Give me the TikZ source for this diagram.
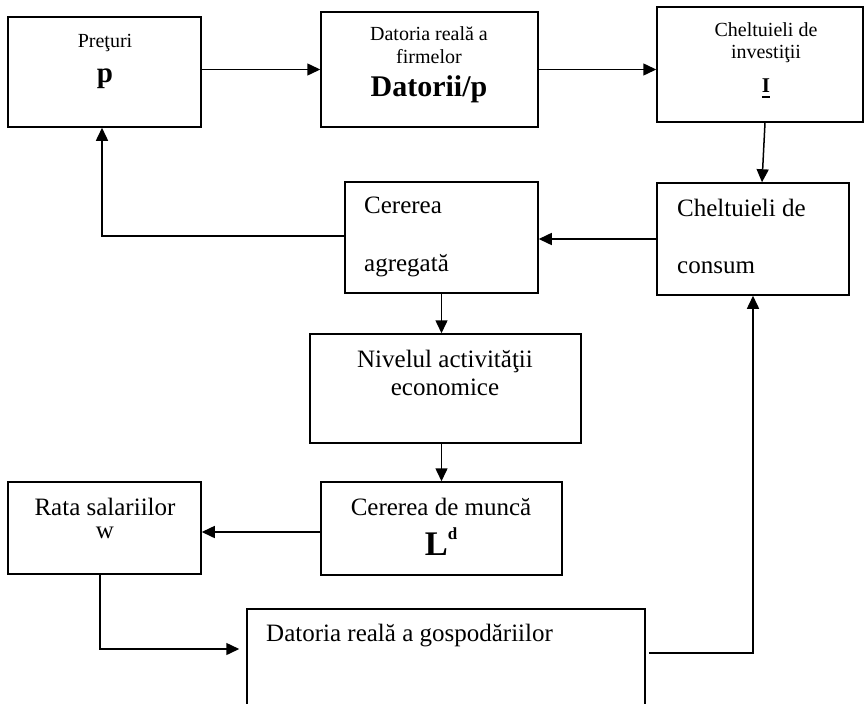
\documentclass[tikz,border=0pt]{standalone}
\usepackage{fontspec}
\setmainfont{Liberation Serif}
\usetikzlibrary{arrows.meta}
% bold letter with a thick underline below it
\newlength\ulboldw
\newcommand\ulbold[1]{\settowidth\ulboldw{#1}\rlap{#1}\rule[-5pt]{\ulboldw}{2pt}}
\begin{document}
\begin{tikzpicture}[x=1pt,y=-1pt,
  box/.style={draw=black, line width=1.5pt, rectangle, inner sep=0pt},
  small/.style={font=\fontsize{20}{24}\selectfont, anchor=base, inner sep=0pt},
  big/.style={font=\fontsize{25}{30}\selectfont, anchor=base, inner sep=0pt},
  bigleft/.style={big, anchor=base west},
  arr/.style={line width=1.5pt, -{Triangle[length=13pt,width=12pt]}}]
\useasboundingbox (0,0) rectangle (865,704);
\clip (0,0) rectangle (865,704);

% boxes
\node[box, minimum width=193pt, minimum height=110pt] (A) at (104.5,72) {};
\node[box, minimum width=217pt, minimum height=115pt] (B) at (429.5,69.5) {};
\node[box, minimum width=206pt, minimum height=115pt] (C) at (760,64.5) {};
\node[box, minimum width=192pt, minimum height=112pt] (D) at (753,239) {};
\node[box, minimum width=193pt, minimum height=111pt] (E) at (441.5,237.5) {};
\node[box, minimum width=271pt, minimum height=109pt] (F) at (445.5,388.5) {};
\node[box, minimum width=241pt, minimum height=93pt] (G) at (441.5,528.5) {};
\node[box, minimum width=193pt, minimum height=92pt] (H) at (104.5,528) {};
\node[box, minimum width=398pt, minimum height=103pt] (I) at (446,660.5) {};

% labels
\node[small] (tA1) at (105,47) {Preţuri};
\node[small, font=\fontsize{29}{32}\selectfont\bfseries] (tA2) at (105,82) {p};

\node[small] (tB1) at (429,40.5) {Datoria reală a};
\node[small] (tB2) at (429,63) {firmelor};
\node[small, font=\fontsize{30}{34}\selectfont\bfseries] (tB3) at (429,96.5) {Datorii/p};

\node[small] (tC1) at (766,36) {Cheltuieli de};
\node[small] (tC2) at (766,58) {investiţii};
\node[small, font=\fontsize{21}{24}\selectfont\bfseries] (tC3) at (766,92.5) {\ulbold{I}};

\node[bigleft] (tD1) at (677,216.5) {Cheltuieli de};
\node[bigleft] (tD2) at (677,273) {consum};

\node[bigleft] (tE1) at (364,213.5) {Cererea};
\node[bigleft] (tE2) at (364,271.5) {agregată};

\node[big] (tF1) at (445,367.5) {Nivelul activităţii};
\node[big] (tF2) at (445,395) {economice};

\node[big] (tG1) at (441,515.5) {Cererea de muncă};
\node[big, font=\fontsize{34.5}{38}\selectfont\bfseries] (tG2) at (441,555)
  {L\raisebox{16pt}{\fontsize{17}{17}\selectfont d}};

\node[big] (tH1) at (105,515.5) {Rata salariilor};
\node[big] (tH2) at (105,538.5) {w};

\node[bigleft] (tI1) at (266,641) {Datoria reală a gospodăriilor};

% connectors
\draw[arr] (A.east |- B.west) -- (B.west);
\draw[arr] (B.east) -- (C.west |- B.east);
\draw[arr] ([xshift=5pt]C.south) -- ([xshift=9pt]D.north);
\draw[arr] (D.west) -- (E.east |- D.west);
\draw[arr] ([yshift=1.5pt]E.west) -| ([xshift=-2.5pt]A.south);
\draw[arr] (E.south) -- (E.south |- F.north);
\draw[arr] (G.north |- F.south) -- (G.north);
\draw[arr] ([yshift=-3.5pt]G.west) -- ([yshift=-3.5pt]G.west -| H.east);
\draw[arr, shorten >=7pt] ([xshift=-4.5pt]H.south) |- ([yshift=11.5pt]I.west);
\draw[arr] ([xshift=3pt,yshift=7.5pt]I.east) -| (D.south);
\end{tikzpicture}
\end{document}
